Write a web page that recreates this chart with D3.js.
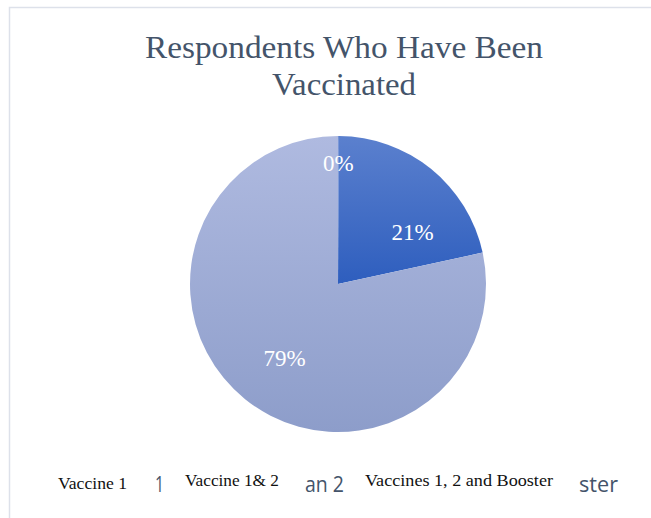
<!DOCTYPE html>
<html>
<head>
<meta charset="utf-8">
<script src="https://cdn.jsdelivr.net/npm/d3@7"></script>
<style>
  html, body { margin: 0; padding: 0; background: #fff; }
  svg { display: block; }
</style>
</head>
<body>
<svg id="chart" width="651" height="518"></svg>
<script>
// Vaccination status of respondents (share of total)
const categories = ["Vaccine 1", "Vaccine 1& 2", "Vaccines 1, 2 and Booster"];
const values = [0.1, 21.5, 78.4];
const percentLabels = ["0%", "21%", "79%"];
// Fragments of the legend entries that remain visible behind the overlaid names
const legendFragments = ["1", "an 2", "ster"];
const titleLines = ["Respondents Who Have Been", "Vaccinated"];

const W = 651, H = 518;
const svg = d3.select("#chart");
const defs = svg.append("defs");

// Chart frame (left and top edges only show within the page)
svg.append("path")
  .attr("d", `M9.5,${H} V7.5 H${W}`)
  .attr("fill", "none")
  .attr("stroke", "#dde1ea")
  .attr("stroke-width", 1.5);

// Title
const serifFont = "'Liberation Serif', 'Times New Roman', serif";
const titleWidths = [398, 144];
svg.append("g").selectAll("text")
  .data(titleLines)
  .join("text")
  .attr("x", 344)
  .attr("y", (d, i) => 58 + i * 37)
  .attr("text-anchor", "middle")
  .attr("font-family", serifFont)
  .attr("font-size", 32)
  .attr("fill", "#44546a")
  .attr("textLength", (d, i) => titleWidths[i])
  .attr("lengthAdjust", "spacingAndGlyphs")
  .text(d => d);

// Pie
const cx = 338, cy = 284, R = 148;
const slices = categories.map((c, i) => ({ category: c, value: values[i], label: percentLabels[i] }));
const pie = d3.pie().value(d => d.value).sort(null);
const arc = d3.arc().innerRadius(0).outerRadius(R);
const arcs = pie(slices);

const gradStops = [
  ["#6f8fd4", "#5074c8"],
  ["#5b80ce", "#2e5ebe"],
  ["#afbae0", "#8d9dca"]
];
gradStops.forEach((s, i) => {
  const g = defs.append("linearGradient")
    .attr("id", "grad" + i)
    .attr("x1", 0).attr("y1", 0).attr("x2", 0).attr("y2", 1);
  g.append("stop").attr("offset", "0%").attr("stop-color", s[0]);
  g.append("stop").attr("offset", "100%").attr("stop-color", s[1]);
});

const pieG = svg.append("g").attr("transform", `translate(${cx},${cy})`);
pieG.selectAll("path")
  .data(arcs)
  .join("path")
  .attr("d", arc)
  .attr("fill", (d, i) => `url(#grad${i})`);

// Data labels inside the slices
const labelRadius = [121, 91, 91];
const labelAngleShift = [0, 0.28, -0.05];
pieG.selectAll("text")
  .data(arcs)
  .join("text")
  .attr("transform", (d, i) => {
    const a = (d.startAngle + d.endAngle) / 2 + labelAngleShift[i];
    const r = labelRadius[i];
    return `translate(${r * Math.sin(a)},${-r * Math.cos(a)})`;
  })
  .attr("dy", "0.35em")
  .attr("text-anchor", "middle")
  .attr("font-family", serifFont)
  .attr("font-size", 23)
  .attr("fill", "#ffffff")
  .text(d => d.data.label);

// Legend
const legendX = [58, 185, 365];
const legendW = [69, 94, 188];
const fragX = [159.5, 324.5, 598.5];
const fragW = [9, 39, 39];
const legend = svg.append("g");
legend.selectAll("text.frag")
  .data(legendFragments)
  .join("text")
  .attr("class", "frag")
  .attr("x", (d, i) => fragX[i])
  .attr("y", 492)
  .attr("text-anchor", "middle")
  .attr("font-family", "'Open Sans', Lato, sans-serif")
  .attr("font-size", 22)
  .attr("fill", "#44546a")
  .attr("textLength", (d, i) => fragW[i])
  .attr("lengthAdjust", "spacingAndGlyphs")
  .text(d => d);
legend.selectAll("text.name")
  .data(categories)
  .join("text")
  .attr("class", "name")
  .attr("x", (d, i) => legendX[i])
  .attr("y", (d, i) => i === 0 ? 489 : 486)
  .attr("font-family", serifFont)
  .attr("font-size", 17)
  .attr("fill", "#111111")
  .attr("textLength", (d, i) => legendW[i])
  .attr("lengthAdjust", "spacingAndGlyphs")
  .text(d => d);
</script>
</body>
</html>
